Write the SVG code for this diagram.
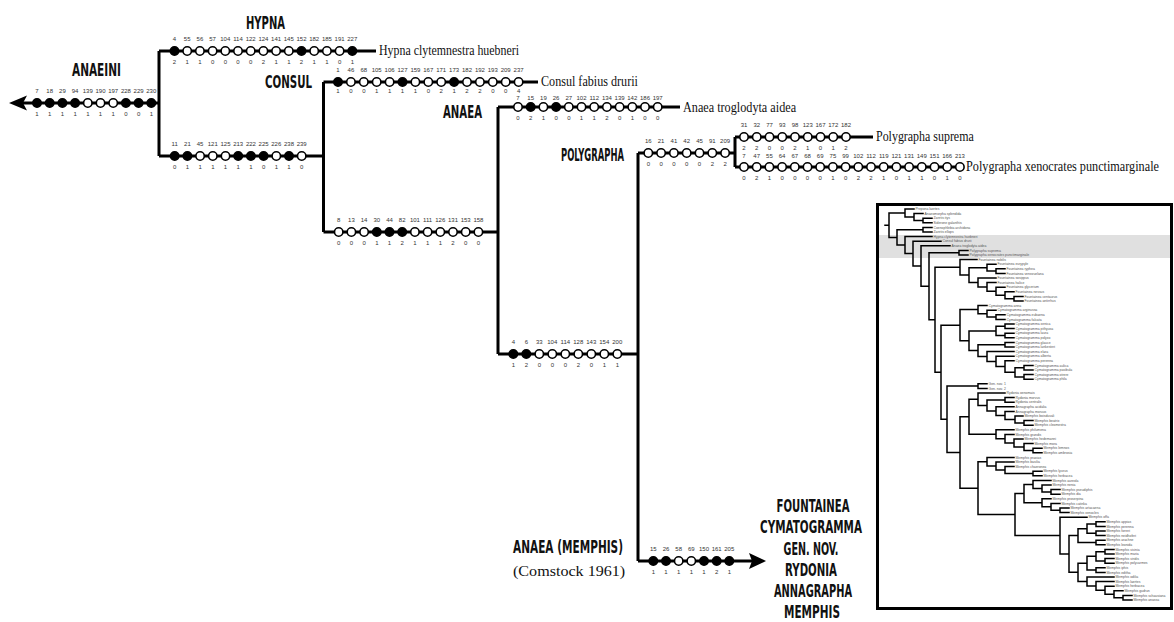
<svg xmlns="http://www.w3.org/2000/svg" width="1174" height="622" viewBox="0 0 1174 622">
<style>
.ln{stroke:#000;stroke-width:3;fill:none}
.o{fill:#fff;stroke:#000;stroke-width:1.6}
.f{fill:#000;stroke:#000;stroke-width:1.6}
.n{font-family:"Liberation Sans",Arial,sans-serif;font-size:6px;fill:#333;text-anchor:middle}
.cl{font-family:"Liberation Sans Narrow","DejaVu Sans Condensed","Liberation Sans",sans-serif;font-weight:bold;font-size:17.5px;fill:#111}
.sp{font-family:"Liberation Serif","Times New Roman",serif;font-size:15px;fill:#111}
.tr{stroke:#000;stroke-width:1.5;fill:none;stroke-linecap:square}
.tl{font-family:"Liberation Sans",Arial,sans-serif;font-size:3.4px;fill:#555}
</style>
<rect width="1174" height="622" fill="#fff"/>

<g id="connectors">
<path class="ln" d="M14 103H159M159 51V156M159 51H376M159 156H323.5M323.5 82V232M323.5 82H538M323.5 232H498M498 107V354M498 107H680M498 354H638M638 153V561M638 153H735M735 137V167M735 137H873M735 167H963M638 561H752"/>
<polygon points="9,103 27,95.5 23,103 27,110.5" fill="#000"/>
<polygon points="766,561 749,553 752,561 749,569" fill="#000"/>
</g>

<g id="anaeini">
<text class="cl" transform="translate(72,76) scale(0.75,1)" textLength="65.3" lengthAdjust="spacingAndGlyphs">ANAEINI</text>
<circle class="f" cx="37" cy="103" r="4.2"/><circle class="f" cx="49.7" cy="103" r="4.2"/><circle class="f" cx="62.4" cy="103" r="4.2"/><circle class="f" cx="75.1" cy="103" r="4.2"/><circle class="o" cx="87.8" cy="103" r="4.2"/><circle class="o" cx="100.5" cy="103" r="4.2"/><circle class="o" cx="113.2" cy="103" r="4.2"/><circle class="f" cx="125.9" cy="103" r="4.2"/><circle class="f" cx="138.6" cy="103" r="4.2"/><circle class="f" cx="151.3" cy="103" r="4.2"/>
<text class="n" y="93"><tspan x="37">7</tspan><tspan x="49.7">18</tspan><tspan x="62.4">29</tspan><tspan x="75.1">94</tspan><tspan x="87.8">139</tspan><tspan x="100.5">190</tspan><tspan x="113.2">197</tspan><tspan x="125.9">228</tspan><tspan x="138.6">229</tspan><tspan x="151.3">230</tspan></text>
<text class="n" y="115.5"><tspan x="37">1</tspan><tspan x="49.7">1</tspan><tspan x="62.4">1</tspan><tspan x="75.1">1</tspan><tspan x="87.8">1</tspan><tspan x="100.5">1</tspan><tspan x="113.2">1</tspan><tspan x="125.9">0</tspan><tspan x="138.6">0</tspan><tspan x="151.3">1</tspan></text>
</g>

<g id="hypna">
<text class="cl" transform="translate(246,29) scale(0.75,1)" font-size="16" textLength="52" lengthAdjust="spacingAndGlyphs">HYPNA</text>
<circle class="f" cx="174.5" cy="51" r="4.2"/><circle class="o" cx="187.2" cy="51" r="4.2"/><circle class="o" cx="199.9" cy="51" r="4.2"/><circle class="o" cx="212.6" cy="51" r="4.2"/><circle class="o" cx="225.3" cy="51" r="4.2"/><circle class="o" cx="238" cy="51" r="4.2"/><circle class="o" cx="250.7" cy="51" r="4.2"/><circle class="o" cx="263.4" cy="51" r="4.2"/><circle class="o" cx="276.1" cy="51" r="4.2"/><circle class="o" cx="288.8" cy="51" r="4.2"/><circle class="f" cx="301.5" cy="51" r="4.2"/><circle class="o" cx="314.2" cy="51" r="4.2"/><circle class="o" cx="326.9" cy="51" r="4.2"/><circle class="o" cx="339.6" cy="51" r="4.2"/><circle class="f" cx="352.3" cy="51" r="4.2"/>
<text class="n" y="41"><tspan x="174.5">4</tspan><tspan x="187.2">55</tspan><tspan x="199.9">56</tspan><tspan x="212.6">57</tspan><tspan x="225.3">104</tspan><tspan x="238">114</tspan><tspan x="250.7">122</tspan><tspan x="263.4">124</tspan><tspan x="276.1">141</tspan><tspan x="288.8">145</tspan><tspan x="301.5">152</tspan><tspan x="314.2">182</tspan><tspan x="326.9">185</tspan><tspan x="339.6">191</tspan><tspan x="352.3">227</tspan></text>
<text class="n" y="63.5"><tspan x="174.5">2</tspan><tspan x="187.2">1</tspan><tspan x="199.9">1</tspan><tspan x="212.6">0</tspan><tspan x="225.3">0</tspan><tspan x="238">0</tspan><tspan x="250.7">0</tspan><tspan x="263.4">2</tspan><tspan x="276.1">1</tspan><tspan x="288.8">1</tspan><tspan x="301.5">2</tspan><tspan x="314.2">1</tspan><tspan x="326.9">1</tspan><tspan x="339.6">0</tspan><tspan x="352.3">1</tspan></text>
<text class="sp" transform="translate(379,55) scale(0.85,1)" textLength="164.7" lengthAdjust="spacingAndGlyphs">Hypna clytemnestra huebneri</text>
</g>

<g id="node-156">
<circle class="f" cx="174.7" cy="156" r="4.2"/><circle class="f" cx="187.4" cy="156" r="4.2"/><circle class="o" cx="200.1" cy="156" r="4.2"/><circle class="o" cx="212.8" cy="156" r="4.2"/><circle class="o" cx="225.5" cy="156" r="4.2"/><circle class="f" cx="238.2" cy="156" r="4.2"/><circle class="f" cx="250.9" cy="156" r="4.2"/><circle class="f" cx="263.6" cy="156" r="4.2"/><circle class="o" cx="276.3" cy="156" r="4.2"/><circle class="f" cx="289" cy="156" r="4.2"/><circle class="o" cx="301.7" cy="156" r="4.2"/>
<text class="n" y="146"><tspan x="174.7">11</tspan><tspan x="187.4">21</tspan><tspan x="200.1">45</tspan><tspan x="212.8">121</tspan><tspan x="225.5">125</tspan><tspan x="238.2">213</tspan><tspan x="250.9">222</tspan><tspan x="263.6">225</tspan><tspan x="276.3">226</tspan><tspan x="289">238</tspan><tspan x="301.7">239</tspan></text>
<text class="n" y="168.5"><tspan x="174.7">0</tspan><tspan x="187.4">1</tspan><tspan x="200.1">1</tspan><tspan x="212.8">1</tspan><tspan x="225.5">1</tspan><tspan x="238.2">1</tspan><tspan x="250.9">1</tspan><tspan x="263.6">0</tspan><tspan x="276.3">1</tspan><tspan x="289">1</tspan><tspan x="301.7">0</tspan></text>
</g>

<g id="consul">
<text class="cl" transform="translate(265,88) scale(0.75,1)" textLength="62.7" lengthAdjust="spacingAndGlyphs">CONSUL</text>
<circle class="f" cx="338" cy="82" r="4.2"/><circle class="o" cx="350.9" cy="82" r="4.2"/><circle class="o" cx="363.8" cy="82" r="4.2"/><circle class="o" cx="376.7" cy="82" r="4.2"/><circle class="o" cx="389.6" cy="82" r="4.2"/><circle class="f" cx="402.5" cy="82" r="4.2"/><circle class="o" cx="415.4" cy="82" r="4.2"/><circle class="o" cx="428.3" cy="82" r="4.2"/><circle class="o" cx="441.2" cy="82" r="4.2"/><circle class="f" cx="454.1" cy="82" r="4.2"/><circle class="o" cx="467" cy="82" r="4.2"/><circle class="o" cx="479.9" cy="82" r="4.2"/><circle class="o" cx="492.8" cy="82" r="4.2"/><circle class="o" cx="505.7" cy="82" r="4.2"/><circle class="o" cx="518.6" cy="82" r="4.2"/>
<text class="n" y="72"><tspan x="338">1</tspan><tspan x="350.9">46</tspan><tspan x="363.8">68</tspan><tspan x="376.7">105</tspan><tspan x="389.6">106</tspan><tspan x="402.5">127</tspan><tspan x="415.4">159</tspan><tspan x="428.3">167</tspan><tspan x="441.2">171</tspan><tspan x="454.1">173</tspan><tspan x="467">182</tspan><tspan x="479.9">192</tspan><tspan x="492.8">193</tspan><tspan x="505.7">209</tspan><tspan x="518.6">237</tspan></text>
<text class="n" y="92.5"><tspan x="338">1</tspan><tspan x="350.9">0</tspan><tspan x="363.8">0</tspan><tspan x="376.7">1</tspan><tspan x="389.6">1</tspan><tspan x="402.5">1</tspan><tspan x="415.4">1</tspan><tspan x="428.3">0</tspan><tspan x="441.2">2</tspan><tspan x="454.1">1</tspan><tspan x="467">2</tspan><tspan x="479.9">2</tspan><tspan x="492.8">0</tspan><tspan x="505.7">0</tspan><tspan x="518.6">4</tspan></text>
<text class="sp" transform="translate(541,86) scale(0.85,1)" textLength="114" lengthAdjust="spacingAndGlyphs">Consul fabius drurii</text>
</g>

<g id="node-232">
<circle class="o" cx="338.7" cy="232" r="4.2"/><circle class="o" cx="351.4" cy="232" r="4.2"/><circle class="o" cx="364.1" cy="232" r="4.2"/><circle class="f" cx="376.8" cy="232" r="4.2"/><circle class="f" cx="389.5" cy="232" r="4.2"/><circle class="f" cx="402.2" cy="232" r="4.2"/><circle class="o" cx="414.9" cy="232" r="4.2"/><circle class="o" cx="427.6" cy="232" r="4.2"/><circle class="o" cx="440.3" cy="232" r="4.2"/><circle class="o" cx="453" cy="232" r="4.2"/><circle class="o" cx="465.7" cy="232" r="4.2"/><circle class="o" cx="478.4" cy="232" r="4.2"/>
<text class="n" y="222"><tspan x="338.7">8</tspan><tspan x="351.4">13</tspan><tspan x="364.1">14</tspan><tspan x="376.8">30</tspan><tspan x="389.5">44</tspan><tspan x="402.2">82</tspan><tspan x="414.9">101</tspan><tspan x="427.6">111</tspan><tspan x="440.3">126</tspan><tspan x="453">131</tspan><tspan x="465.7">153</tspan><tspan x="478.4">158</tspan></text>
<text class="n" y="244.5"><tspan x="338.7">0</tspan><tspan x="351.4">0</tspan><tspan x="364.1">0</tspan><tspan x="376.8">1</tspan><tspan x="389.5">1</tspan><tspan x="402.2">2</tspan><tspan x="414.9">1</tspan><tspan x="427.6">1</tspan><tspan x="440.3">1</tspan><tspan x="453">2</tspan><tspan x="465.7">0</tspan><tspan x="478.4">0</tspan></text>
</g>

<g id="anaea">
<text class="cl" transform="translate(443,118) scale(0.75,1)" textLength="52" lengthAdjust="spacingAndGlyphs">ANAEA</text>
<circle class="o" cx="518" cy="107" r="4.2"/><circle class="f" cx="530.7" cy="107" r="4.2"/><circle class="o" cx="543.4" cy="107" r="4.2"/><circle class="f" cx="556.1" cy="107" r="4.2"/><circle class="o" cx="568.8" cy="107" r="4.2"/><circle class="o" cx="581.5" cy="107" r="4.2"/><circle class="o" cx="594.2" cy="107" r="4.2"/><circle class="o" cx="606.9" cy="107" r="4.2"/><circle class="o" cx="619.6" cy="107" r="4.2"/><circle class="o" cx="632.3" cy="107" r="4.2"/><circle class="o" cx="645" cy="107" r="4.2"/><circle class="o" cx="657.7" cy="107" r="4.2"/>
<text class="n" y="99.5"><tspan x="518">7</tspan><tspan x="530.7">15</tspan><tspan x="543.4">19</tspan><tspan x="556.1">26</tspan><tspan x="568.8">27</tspan><tspan x="581.5">102</tspan><tspan x="594.2">112</tspan><tspan x="606.9">134</tspan><tspan x="619.6">139</tspan><tspan x="632.3">142</tspan><tspan x="645">186</tspan><tspan x="657.7">197</tspan></text>
<text class="n" y="119.5"><tspan x="518">0</tspan><tspan x="530.7">2</tspan><tspan x="543.4">1</tspan><tspan x="556.1">0</tspan><tspan x="568.8">0</tspan><tspan x="581.5">1</tspan><tspan x="594.2">1</tspan><tspan x="606.9">2</tspan><tspan x="619.6">0</tspan><tspan x="632.3">1</tspan><tspan x="645">0</tspan><tspan x="657.7">0</tspan></text>
<text class="sp" transform="translate(683,112) scale(0.85,1)" textLength="133" lengthAdjust="spacingAndGlyphs">Anaea troglodyta aidea</text>
</g>

<g id="node-354">
<circle class="f" cx="513.3" cy="354" r="4.2"/><circle class="f" cx="526.3" cy="354" r="4.2"/><circle class="o" cx="539.3" cy="354" r="4.2"/><circle class="o" cx="552.3" cy="354" r="4.2"/><circle class="o" cx="565.3" cy="354" r="4.2"/><circle class="o" cx="578.3" cy="354" r="4.2"/><circle class="o" cx="591.3" cy="354" r="4.2"/><circle class="o" cx="604.3" cy="354" r="4.2"/><circle class="o" cx="617.3" cy="354" r="4.2"/>
<text class="n" y="344"><tspan x="513.3">4</tspan><tspan x="526.3">6</tspan><tspan x="539.3">33</tspan><tspan x="552.3">104</tspan><tspan x="565.3">114</tspan><tspan x="578.3">128</tspan><tspan x="591.3">143</tspan><tspan x="604.3">154</tspan><tspan x="617.3">200</tspan></text>
<text class="n" y="366.5"><tspan x="513.3">1</tspan><tspan x="526.3">2</tspan><tspan x="539.3">0</tspan><tspan x="552.3">0</tspan><tspan x="565.3">0</tspan><tspan x="578.3">2</tspan><tspan x="591.3">0</tspan><tspan x="604.3">1</tspan><tspan x="617.3">1</tspan></text>
</g>

<g id="polygrapha">
<text class="cl" transform="translate(561,161) scale(0.55,1)" textLength="114.5" lengthAdjust="spacingAndGlyphs">POLYGRAPHA</text>
<circle class="o" cx="648.3" cy="153" r="4.2"/><circle class="o" cx="661.1" cy="153" r="4.2"/><circle class="o" cx="673.9" cy="153" r="4.2"/><circle class="o" cx="686.7" cy="153" r="4.2"/><circle class="o" cx="699.5" cy="153" r="4.2"/><circle class="o" cx="712.3" cy="153" r="4.2"/><circle class="o" cx="725.1" cy="153" r="4.2"/>
<text class="n" y="143"><tspan x="648.3">16</tspan><tspan x="661.1">21</tspan><tspan x="673.9">41</tspan><tspan x="686.7">42</tspan><tspan x="699.5">45</tspan><tspan x="712.3">91</tspan><tspan x="725.1">209</tspan></text>
<text class="n" y="165.5"><tspan x="648.3">0</tspan><tspan x="661.1">0</tspan><tspan x="673.9">0</tspan><tspan x="686.7">0</tspan><tspan x="699.5">0</tspan><tspan x="712.3">2</tspan><tspan x="725.1">2</tspan></text>
</g>

<g id="suprema">
<circle class="o" cx="744" cy="137" r="4.2"/><circle class="o" cx="756.75" cy="137" r="4.2"/><circle class="o" cx="769.5" cy="137" r="4.2"/><circle class="o" cx="782.25" cy="137" r="4.2"/><circle class="o" cx="795" cy="137" r="4.2"/><circle class="o" cx="807.75" cy="137" r="4.2"/><circle class="o" cx="820.5" cy="137" r="4.2"/><circle class="o" cx="833.25" cy="137" r="4.2"/><circle class="o" cx="846" cy="137" r="4.2"/>
<text class="n" y="127"><tspan x="744">31</tspan><tspan x="756.75">32</tspan><tspan x="769.5">77</tspan><tspan x="782.25">93</tspan><tspan x="795">98</tspan><tspan x="807.75">123</tspan><tspan x="820.5">167</tspan><tspan x="833.25">172</tspan><tspan x="846">182</tspan></text>
<text class="n" y="149.5"><tspan x="744">2</tspan><tspan x="756.75">2</tspan><tspan x="769.5">0</tspan><tspan x="782.25">0</tspan><tspan x="795">2</tspan><tspan x="807.75">1</tspan><tspan x="820.5">0</tspan><tspan x="833.25">1</tspan><tspan x="846">2</tspan></text>
<text class="sp" transform="translate(876,141) scale(0.85,1)" textLength="115" lengthAdjust="spacingAndGlyphs">Polygrapha suprema</text>
</g>

<g id="xenocrates">
<circle class="o" cx="744" cy="167" r="4.2"/><circle class="o" cx="756.7" cy="167" r="4.2"/><circle class="o" cx="769.4" cy="167" r="4.2"/><circle class="o" cx="782.1" cy="167" r="4.2"/><circle class="o" cx="794.8" cy="167" r="4.2"/><circle class="o" cx="807.5" cy="167" r="4.2"/><circle class="o" cx="820.2" cy="167" r="4.2"/><circle class="o" cx="832.9" cy="167" r="4.2"/><circle class="o" cx="845.6" cy="167" r="4.2"/><circle class="o" cx="858.3" cy="167" r="4.2"/><circle class="o" cx="871" cy="167" r="4.2"/><circle class="o" cx="883.7" cy="167" r="4.2"/><circle class="o" cx="896.4" cy="167" r="4.2"/><circle class="o" cx="909.1" cy="167" r="4.2"/><circle class="o" cx="921.8" cy="167" r="4.2"/><circle class="o" cx="934.5" cy="167" r="4.2"/><circle class="o" cx="947.2" cy="167" r="4.2"/><circle class="o" cx="959.9" cy="167" r="4.2"/>
<text class="n" y="157.5"><tspan x="744">7</tspan><tspan x="756.7">47</tspan><tspan x="769.4">55</tspan><tspan x="782.1">64</tspan><tspan x="794.8">67</tspan><tspan x="807.5">68</tspan><tspan x="820.2">69</tspan><tspan x="832.9">75</tspan><tspan x="845.6">99</tspan><tspan x="858.3">102</tspan><tspan x="871">112</tspan><tspan x="883.7">119</tspan><tspan x="896.4">121</tspan><tspan x="909.1">131</tspan><tspan x="921.8">149</tspan><tspan x="934.5">151</tspan><tspan x="947.2">166</tspan><tspan x="959.9">213</tspan></text>
<text class="n" y="179.5"><tspan x="744">0</tspan><tspan x="756.7">2</tspan><tspan x="769.4">1</tspan><tspan x="782.1">0</tspan><tspan x="794.8">0</tspan><tspan x="807.5">0</tspan><tspan x="820.2">0</tspan><tspan x="832.9">1</tspan><tspan x="845.6">0</tspan><tspan x="858.3">2</tspan><tspan x="871">2</tspan><tspan x="883.7">1</tspan><tspan x="896.4">0</tspan><tspan x="909.1">1</tspan><tspan x="921.8">1</tspan><tspan x="934.5">0</tspan><tspan x="947.2">1</tspan><tspan x="959.9">0</tspan></text>
<text class="sp" transform="translate(966,171) scale(0.85,1)" textLength="227" lengthAdjust="spacingAndGlyphs">Polygrapha xenocrates punctimarginale</text>
</g>

<g id="memphis">
<text class="cl" transform="translate(513,553) scale(0.75,1)" font-size="15" textLength="146.7" lengthAdjust="spacingAndGlyphs">ANAEA (MEMPHIS)</text>
<text class="sp" transform="translate(513,576) scale(0.85,1)" font-size="16.5" textLength="132" lengthAdjust="spacingAndGlyphs">(Comstock 1961)</text>
<circle class="f" cx="653.3" cy="561" r="4.2"/><circle class="f" cx="666" cy="561" r="4.2"/><circle class="o" cx="678.7" cy="561" r="4.2"/><circle class="o" cx="691.3" cy="561" r="4.2"/><circle class="f" cx="704" cy="561" r="4.2"/><circle class="f" cx="716.7" cy="561" r="4.2"/><circle class="f" cx="729.3" cy="561" r="4.2"/>
<text class="n" y="551"><tspan x="653.3">15</tspan><tspan x="666">26</tspan><tspan x="678.7">58</tspan><tspan x="691.3">69</tspan><tspan x="704">150</tspan><tspan x="716.7">161</tspan><tspan x="729.3">205</tspan></text>
<text class="n" y="573.5"><tspan x="653.3">1</tspan><tspan x="666">1</tspan><tspan x="678.7">1</tspan><tspan x="691.3">1</tspan><tspan x="704">1</tspan><tspan x="716.7">2</tspan><tspan x="729.3">1</tspan></text>
</g>

<g id="genera" text-anchor="middle">
<text class="cl" transform="translate(813,512) scale(0.75,1)" font-size="16.5" textLength="97.3" lengthAdjust="spacingAndGlyphs">FOUNTAINEA</text>
<text class="cl" transform="translate(811,533) scale(0.75,1)" font-size="16.5" textLength="136" lengthAdjust="spacingAndGlyphs">CYMATOGRAMMA</text>
<text class="cl" transform="translate(811,555) scale(0.75,1)" font-size="16.5" textLength="73.3" lengthAdjust="spacingAndGlyphs">GEN. NOV.</text>
<text class="cl" transform="translate(811,576) scale(0.75,1)" font-size="16.5" textLength="69.3" lengthAdjust="spacingAndGlyphs">RYDONIA</text>
<text class="cl" transform="translate(813,597) scale(0.75,1)" font-size="16.5" textLength="104" lengthAdjust="spacingAndGlyphs">ANNAGRAPHA</text>
<text class="cl" transform="translate(812,618) scale(0.75,1)" font-size="16.5" textLength="74.7" lengthAdjust="spacingAndGlyphs">MEMPHIS</text>
</g>

<g id="inset">
<rect x="879" y="235" width="292" height="23" fill="#e0e0e0"/>
<rect x="877.5" y="204.5" width="294" height="404" fill="none" stroke="#000" stroke-width="3"/>
<path class="tr" d="M885 225.2H889M932 218.2H923V222.8H932M923 213.6H914V220.5H923M914 209H905V217.05H914M932 227.4H923V232H932M905 213H889V237.4H897M923 229.7H897V245.1H905M932 236.6H905V253.6H913M941 241.2H913V266H921M950 245.8H921V286.25H929M959 252.7H929V319.8H935M968 250.4H959V255H968M960 267.3H935V372.25H941M977 259.6H960V275.05H969M987 267.65H969V282.45H978M996 264.2H987V271.1H996M1005 268.8H996V273.4H1005M996 278H978V286.9H987M996 282.6H987V291.2H996M1005 287.2H996V295.25H1005M1014 291.8H1005V298.7H1014M1023 296.4H1014V301H1023M960 325.2H941V419.3H947M978 309.6H960V340.75H969M987 305.6H978V313.65H987M996 310.2H987V317.1H996M1005 314.8H996V319.4H1005M996 330.9H969V350.6H978M1005 326.3H996V335.5H1005M1014 324H1005V328.6H1014M1014 333.2H1005V337.8H1014M1005 344.7H978V356.5H987M1014 342.4H1005V347H1014M1014 351.6H987V361.4H996M1014 356.2H996V366.55H1005M1014 360.8H1005V372.3H1015M1024 367.7H1015V376.9H1024M1033 365.4H1024V370H1033M1033 374.6H1024V379.2H1033M978 386.1H947V452.45H960M987 383.8H978V388.4H987M969 416.75H960V488.15H978M978 399.25H969V434.25H996M1005 393H978V405.5H987M1005 399.9H987V411.1H996M1014 397.6H1005V402.2H1014M1014 406.8H996V415.4H1005M1014 411.4H1005V419.45H1015M1023 416H1015V422.9H1024M1033 420.6H1024V425.2H1033M1014 429.8H996V438.7H1005M1014 434.4H1005V443H1014M1023 439H1014V447.05H1024M1033 443.6H1024V450.5H1033M1042 448.2H1033V452.8H1042M987 461.7H978V514.6H1015M1014 457.4H987V466H996M1014 462H996V470.05H1005M1014 466.6H1005V473.5H1033M1042 471.2H1033V475.8H1042M1024 493.6H1015V535.6H1060M1033 484.4H1024V502.8H1042M1051 480.4H1033V488.45H1042M1051 485H1042V491.9H1051M1060 489.6H1051V494.2H1060M1051 498.8H1042V506.85H1051M1060 503.4H1051V510.3H1060M1069 508H1060V512.6H1069M1087 517.2H1060V553.95H1069M1078 535.6H1069V572.3H1078M1087 528.7H1078V542.5H1096M1096 524.1H1087V533.3H1096M1105 521.8H1096V526.4H1105M1105 531H1096V535.6H1105M1105 540.2H1096V544.8H1105M1087 563.2H1078V581.45H1087M1096 556.3H1087V570.1H1096M1105 551.7H1096V560.9H1105M1114 549.4H1105V554H1114M1114 558.6H1105V563.2H1114M1105 567.8H1096V572.4H1105M1114 577H1087V585.9H1096M1114 581.6H1096V590.2H1105M1114 586.2H1105V594.25H1114M1123 590.8H1114V597.7H1123M1132 595.4H1123V600H1132"/>
<text class="tl">
<tspan x="915.5" y="210.2">Prepona laertes</tspan>
<tspan x="924.5" y="214.8">Anaeomorpha splendida</tspan>
<tspan x="933.5" y="219.4">Zaretis itys</tspan>
<tspan x="933.5" y="224">Siderone galanthis</tspan>
<tspan x="933.5" y="228.6">Coenophlebia archidona</tspan>
<tspan x="933.5" y="233.2">Zaretis ellops</tspan>
<tspan x="933.5" y="237.8">Hypna clytemnestra huebneri</tspan>
<tspan x="942.5" y="242.4">Consul fabius drurii</tspan>
<tspan x="951.5" y="247">Anaea troglodyta aidea</tspan>
<tspan x="969.5" y="251.6">Polygrapha suprema</tspan>
<tspan x="969.5" y="256.2">Polygrapha xenocrates punctimarginale</tspan>
<tspan x="978.5" y="260.8">Fountainea nobilis</tspan>
<tspan x="997.5" y="265.4">Fountainea eurypyle</tspan>
<tspan x="1006.5" y="270">Fountainea ryphea</tspan>
<tspan x="1006.5" y="274.6">Fountainea venezuelana</tspan>
<tspan x="997.5" y="279.2">Fountainea sosippus</tspan>
<tspan x="997.5" y="283.8">Fountainea halice</tspan>
<tspan x="1006.5" y="288.4">Fountainea glycerium</tspan>
<tspan x="1015.5" y="293">Fountainea nessus</tspan>
<tspan x="1024.5" y="297.6">Fountainea centaurus</tspan>
<tspan x="1024.5" y="302.2">Fountainea antirrhus</tspan>
<tspan x="988.5" y="306.8">Cymatogramma anna</tspan>
<tspan x="997.5" y="311.4">Cymatogramma arginussa</tspan>
<tspan x="1006.5" y="316">Cymatogramma eubaena</tspan>
<tspan x="1006.5" y="320.6">Cymatogramma falcata</tspan>
<tspan x="1015.5" y="325.2">Cymatogramma xenica</tspan>
<tspan x="1015.5" y="329.8">Cymatogramma pithyusa</tspan>
<tspan x="1015.5" y="334.4">Cymatogramma laura</tspan>
<tspan x="1015.5" y="339">Cymatogramma polyxo</tspan>
<tspan x="1015.5" y="343.6">Cymatogramma glauce</tspan>
<tspan x="1015.5" y="348.2">Cymatogramma lankesteri</tspan>
<tspan x="1015.5" y="352.8">Cymatogramma elara</tspan>
<tspan x="1015.5" y="357.4">Cymatogramma alberta</tspan>
<tspan x="1015.5" y="362">Cymatogramma perenna</tspan>
<tspan x="1034.5" y="366.6">Cymatogramma aulica</tspan>
<tspan x="1034.5" y="371.2">Cymatogramma pasibula</tspan>
<tspan x="1034.5" y="375.8">Cymatogramma otrere</tspan>
<tspan x="1034.5" y="380.4">Cymatogramma phila</tspan>
<tspan x="988.5" y="385">Gen. nov. 1</tspan>
<tspan x="988.5" y="389.6">Gen. nov. 2</tspan>
<tspan x="1006.5" y="394.2">Rydonia oenomais</tspan>
<tspan x="1015.5" y="398.8">Rydonia morvus</tspan>
<tspan x="1015.5" y="403.4">Rydonia centralis</tspan>
<tspan x="1015.5" y="408">Annagrapha acidalia</tspan>
<tspan x="1015.5" y="412.6">Annagrapha moruus</tspan>
<tspan x="1024.5" y="417.2">Memphis boisduvali</tspan>
<tspan x="1034.5" y="421.8">Memphis beatrix</tspan>
<tspan x="1034.5" y="426.4">Memphis cleomestra</tspan>
<tspan x="1015.5" y="431">Memphis philumena</tspan>
<tspan x="1015.5" y="435.6">Memphis grandis</tspan>
<tspan x="1024.5" y="440.2">Memphis hedemanni</tspan>
<tspan x="1034.5" y="444.8">Memphis mora</tspan>
<tspan x="1043.5" y="449.4">Memphis lemnos</tspan>
<tspan x="1043.5" y="454">Memphis ambrosia</tspan>
<tspan x="1015.5" y="458.6">Memphis praxias</tspan>
<tspan x="1015.5" y="463.2">Memphis basilia</tspan>
<tspan x="1015.5" y="467.8">Memphis chaeronea</tspan>
<tspan x="1043.5" y="472.4">Memphis lyceus</tspan>
<tspan x="1043.5" y="477">Memphis herbacea</tspan>
<tspan x="1052.5" y="481.6">Memphis aureola</tspan>
<tspan x="1052.5" y="486.2">Memphis nenia</tspan>
<tspan x="1061.5" y="490.8">Memphis pseudiphis</tspan>
<tspan x="1061.5" y="495.4">Memphis dia</tspan>
<tspan x="1052.5" y="500">Memphis proserpina</tspan>
<tspan x="1061.5" y="504.6">Memphis catinka</tspan>
<tspan x="1070.5" y="509.2">Memphis artacaena</tspan>
<tspan x="1070.5" y="513.8">Memphis xenocles</tspan>
<tspan x="1088.5" y="518.4">Memphis offa</tspan>
<tspan x="1106.5" y="523">Memphis appias</tspan>
<tspan x="1106.5" y="527.6">Memphis perenna</tspan>
<tspan x="1106.5" y="532.2">Memphis forreri</tspan>
<tspan x="1106.5" y="536.8">Memphis neidhoferi</tspan>
<tspan x="1106.5" y="541.4">Memphis arachne</tspan>
<tspan x="1106.5" y="546">Memphis leonida</tspan>
<tspan x="1115.5" y="550.6">Memphis vicinia</tspan>
<tspan x="1115.5" y="555.2">Memphis maria</tspan>
<tspan x="1115.5" y="559.8">Memphis viridis</tspan>
<tspan x="1115.5" y="564.4">Memphis polycarmes</tspan>
<tspan x="1106.5" y="569">Memphis iphis</tspan>
<tspan x="1106.5" y="573.6">Memphis editha</tspan>
<tspan x="1115.5" y="578.2">Memphis odilia</tspan>
<tspan x="1115.5" y="582.8">Memphis laertes</tspan>
<tspan x="1115.5" y="587.4">Memphis herbacea</tspan>
<tspan x="1124.5" y="592">Memphis gudrun</tspan>
<tspan x="1133.5" y="596.6">Memphis schausiana</tspan>
<tspan x="1133.5" y="601.2">Memphis anassa</tspan>
</text>
</g>
</svg>
